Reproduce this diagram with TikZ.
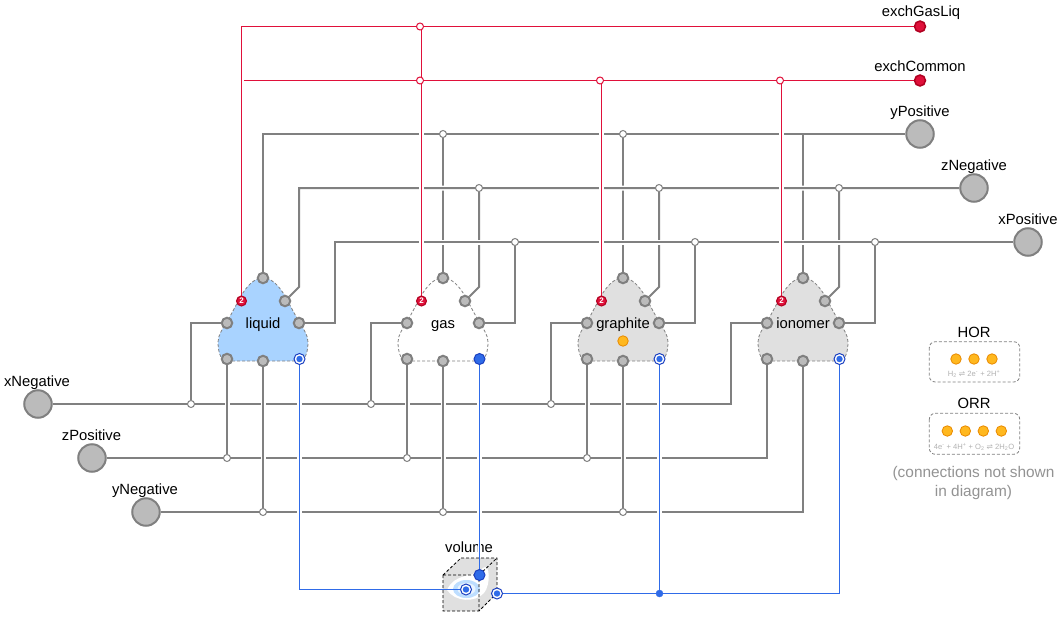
\documentclass[tikz,border=0pt]{standalone}
\usepackage{fontspec}
\setmainfont{Liberation Sans}
\newfontfamily\symfont{DejaVu Sans}
\usetikzlibrary{calc}
\pgfdeclarelayer{blobs}
\pgfdeclarelayer{wires}
\pgfsetlayers{blobs,wires,main}
\definecolor{wiregrey}{HTML}{808080}
\definecolor{portgrey}{HTML}{BBBBBB}
\definecolor{exred}{HTML}{E0103A}
\definecolor{exreddark}{HTML}{B00020}
\definecolor{volblue}{HTML}{2F6BE8}
\definecolor{darkblue}{HTML}{1A3FC0}
\definecolor{liqfill}{HTML}{A9D3FF}
\definecolor{solfill}{HTML}{E0E0E0}
\definecolor{rxfill}{HTML}{FFB81F}
\definecolor{rxline}{HTML}{E98A00}
\tikzset{
  x=1pt,y=-1pt,
  lbl/.style={font=\fontsize{14.8}{16}\selectfont,text=black,inner sep=0pt,anchor=base},
  wire/.style={draw=wiregrey,line width=2pt},
  casing/.style={draw=white,line width=5pt},
  redwire/.style={draw=exred,line width=1pt},
  bluewire/.style={draw=volblue,line width=1pt},
  junc/.style={circle,draw=wiregrey,fill=white,line width=1pt,minimum size=7pt,inner sep=0pt},
  redjunc/.style={circle,draw=exred,fill=white,line width=1pt,minimum size=7pt,inner sep=0pt},
  bluejunc/.style={circle,draw=volblue,fill=volblue,minimum size=7pt,inner sep=0pt},
  port/.style={circle,draw=wiregrey,fill=portgrey,line width=2pt,minimum size=10.5pt,inner sep=0pt},
  bigport/.style={circle,draw=wiregrey,fill=portgrey,line width=2pt,minimum size=27.5pt,inner sep=0pt},
  export/.style={circle,draw=exreddark,fill=exred,line width=1.5pt,minimum size=11pt,inner sep=0pt},
  redport/.style={circle,draw=exreddark,fill=exred,line width=1pt,minimum size=10pt,inner sep=0pt,text=white,font=\fontsize{8}{8}\selectfont\bfseries},
  ringport/.style={circle,draw=darkblue,fill=white,line width=1pt,minimum size=11pt,inner sep=0pt,
    path picture={\fill[volblue] (path picture bounding box.center) circle[radius=3.2pt];}},
  fullblue/.style={circle,draw=darkblue,fill=volblue,line width=1pt,minimum size=11pt,inner sep=0pt},
  rx/.style={circle,draw=rxline,fill=rxfill,line width=.8pt,minimum size=10.5pt,inner sep=0pt},
  blob/.style={draw=wiregrey,line width=.8pt,dash pattern=on 3pt off 2pt},
  rxbox/.style={draw=wiregrey,line width=.8pt,dash pattern=on 3pt off 2pt,rounded corners=6pt},
  rxtext/.style={font=\fontsize{7.6}{9}\selectfont,text=gray!60,inner sep=0pt,anchor=base},
  notetext/.style={font=\fontsize{15.4}{17}\selectfont,text=gray!85,inner sep=0pt,anchor=base},
}
\newcommand{\compblob}[3]{%
  \begin{pgfonlayer}{blobs}
  \begin{scope}[shift={(#1,0)}]
    \path[blob,fill=#2] (-36,361) -- (36,361)
      .. controls (43,361) and (45,350) .. (45,342)
      .. controls (45,335) and (40,328) .. (36,322)
      -- (22,296)
      .. controls (16,286) and (9,278) .. (0,278)
      .. controls (-9,278) and (-16,286) .. (-22,296)
      -- (-36,322)
      .. controls (-40,328) and (-45,335) .. (-45,342)
      .. controls (-45,350) and (-43,361) .. (-36,361) -- cycle;
  \end{scope}%
  \end{pgfonlayer}%
  \node[lbl] (#3lab) at (#1,328) {#3};%
}
\newcommand{\compports}[2]{%
  \node[port] (#2T) at (#1,278) {};
  \node[port] (#2L) at (#1-36,323) {};
  \node[port] (#2R) at (#1+36,323) {};
  \node[port] (#2U) at (#1+22,301) {};
  \node[port] (#2BL) at (#1-36,359) {};
  \node[port] (#2BM) at (#1,361) {};
  \node[redport] (#2E) at (#1-21.5,301) {2};
}
\newcommand{\cwire}[1]{\draw[casing] #1; \draw[wire] #1;}
\begin{document}
\begin{tikzpicture}
\useasboundingbox (0,0) rectangle (1063,618);
\begin{pgfonlayer}{blobs}
\fill[white] (0,0) rectangle (1063,618);
\end{pgfonlayer}

% units
\compblob{263}{liqfill}{liquid}
\compblob{443}{white}{gas}
\compblob{623}{solfill}{graphite}
\compblob{803}{solfill}{ionomer}

% boundary ports
\node[bigport] (yPos) at (920,134) {};
\node[bigport] (zNeg) at (974,188) {};
\node[bigport] (xPos) at (1028,242) {};
\node[bigport] (xNeg) at (38,404) {};
\node[bigport] (zPos) at (92,458) {};
\node[bigport] (yNeg) at (146,512) {};
\node[export] (exGL) at (920,26.500) {};
\node[export] (exC) at (920,80.500) {};
\coordinate (exCend) at (244,80.500);

\compports{263}{liq}
\compports{443}{gas}
\compports{623}{gra}
\compports{803}{ion}
\node[rx] (rxgra) at (623,341) {};

% junctions
\foreach \n/\x/\y in {a1/443/134,a2/623/134,
  b1/479/188,b2/659/188,b3/839/188,
  c1/515/242,c2/695/242,c3/875/242,
  d1/191/404,d2/371/404,d3/551/404,
  e1/227/458,e2/407/458,e3/587/458,
  f1/263/512,f2/443/512,f3/623/512}
  \node[junc] (\n) at (\x,\y) {};
\foreach \n/\x/\y in {r1/420/26.500,r2/420/80.500,r3/600/80.500,r4/780/80.500}
  \node[redjunc] (\n) at (\x,\y) {};
\coordinate (rv1) at (421.500,26.500);
\coordinate (rv3) at (601.500,80.500);
\coordinate (rv4) at (781.500,80.500);

% volume ports and unit flow ports
\node[ringport] (volIn) at (466,589.500) {};
\node[fullblue] (volTop) at (479.500,575) {};
\node[ringport] (volOut) at (497,593.500) {};
\node[ringport] (liqV) at (299.500,359) {};
\node[fullblue] (gasV) at (479.500,359) {};
\node[ringport] (graV) at (659.500,359) {};
\node[ringport] (ionV) at (839.500,359) {};
\node[bluejunc] (vj) at (659.500,593.500) {};

\begin{pgfonlayer}{wires}
% y positive
\draw[wire] (yPos) -- (263,134) -- (liqT);
\draw[wire] (a1) -- (gasT);
\draw[wire] (a2) -- (graT);
\draw[wire] (803,134) -- (ionT);
% z negative
\cwire{(zNeg) -- (299,188) -- (299,287) -- (liqU)}
\cwire{(b1) -- (479,287) -- (gasU)}
\cwire{(b2) -- (659,287) -- (graU)}
\cwire{(b3) -- (839,287) -- (ionU)}
% x positive
\cwire{(xPos) -- (335,242) -- (335,323) -- (liqR)}
\cwire{(c1) -- (515,323) -- (gasR)}
\cwire{(c2) -- (695,323) -- (graR)}
\cwire{(c3) -- (875,323) -- (ionR)}
% x negative
\draw[wire] (xNeg) -- (731,404) -- (731,323) -- (ionL);
\draw[wire] (d1) -- (191,323) -- (liqL);
\draw[wire] (d2) -- (371,323) -- (gasL);
\draw[wire] (d3) -- (551,323) -- (graL);
% z positive
\cwire{(zPos) -- (767,458) -- (ionBL)}
\cwire{(e1) -- (liqBL)}
\cwire{(e2) -- (gasBL)}
\cwire{(e3) -- (graBL)}
% y negative
\cwire{(yNeg) -- (803,512) -- (ionBM)}
\cwire{(f1) -- (liqBM)}
\cwire{(f2) -- (gasBM)}
\cwire{(f3) -- (graBM)}

% exchange wires, with a white gap where they cross the grey ones
\draw[casing] (421.500,100) -- (421.500,270);
\draw[casing] (601.500,100) -- (601.500,270);
\draw[casing] (781.500,100) -- (781.500,270);
\draw[redwire] (exGL) -- (241.500,26.500) -- (liqE);
\draw[redwire] (exC) -- (exCend);
\draw[redwire] (rv1) -- (gasE);
\draw[redwire] (rv3) -- (graE);
\draw[redwire] (rv4) -- (ionE);

% volume cube
\node[lbl] (volab) at (469,552) {volume};
\fill[solfill] (443,575) -- (461,558) -- (497,558) -- (497,593) -- (479,611) -- (443,611) -- cycle;
\fill[white] (447,590) .. controls (455,572) and (475,578) .. (483,568)
  .. controls (490,562) and (491,585) .. (484,593)
  .. controls (475,603) and (455,602) .. (447,590) -- cycle;
\fill[liqfill!75!white] (466.500,589) ellipse[x radius=13.500pt,y radius=9pt];
\fill[liqfill!25!white] (466.500,589) ellipse[x radius=9pt,y radius=6pt];
\draw[black,line width=.8pt,dash pattern=on 3pt off 2pt]
  (443,575) -- (461,558) -- (497,558) -- (497,593) -- (479,611) -- (443,611) -- cycle
  (443,575) -- (479,575) -- (479,611) (479,575) -- (497,558);

% volume flow wires
\draw[casing] (299.500,375) -- (299.500,530);
\draw[casing] (479.500,375) -- (479.500,530);
\draw[casing] (659.500,375) -- (659.500,530);
\draw[white,line width=3pt] (479.500,538) -- (479.500,556);
\draw[bluewire] (liqV) -- (299.500,589.500) -- (volIn);
\draw[bluewire] (gasV) -- (volTop);
\draw[bluewire] (volOut) -- (839.500,593.500) -- (ionV);
\draw[bluewire] (vj) -- (graV);
\end{pgfonlayer}

% labels
\node[lbl] (lGL) at (921,17) {exchGasLiq};
\node[lbl] (lC) at (920,71) {exchCommon};
\node[lbl] (lyP) at (920,116) {yPositive};
\node[lbl] (lzN) at (974,170) {zNegative};
\node[lbl] (lxP) at (1028,224) {xPositive};
\node[lbl] (lxN) at (37,386) {xNegative};
\node[lbl] (lzP) at (91.500,440) {zPositive};
\node[lbl] (lyN) at (145,494) {yNegative};

% reactions
\node[lbl] (hor) at (974,337) {HOR};
\draw[rxbox] (929.300,341.700) rectangle (1019.700,382);
\node[rx] (h1) at (956,359) {};
\node[rx] (h2) at (974,359) {};
\node[rx] (h3) at (992,359) {};
\node[rxtext] (hortxt) at (974,376.500) {H\textsubscript{2} {\symfont ⇌} 2e\textsuperscript{-} + 2H\textsuperscript{+}};
\node[lbl] (orr) at (974,408) {ORR};
\draw[rxbox] (929.300,413.300) rectangle (1019.700,454.300);
\node[rx] (o1) at (947.300,431) {};
\node[rx] (o2) at (965.300,431) {};
\node[rx] (o3) at (983.300,431) {};
\node[rx] (o4) at (1001.300,431) {};
\node[rxtext] (orrtxt) at (974,449) {4e\textsuperscript{-} + 4H\textsuperscript{+} + O\textsubscript{2} {\symfont ⇌} 2H\textsubscript{2}O};
\node[notetext] (note1) at (973.500,477) {(connections not shown};
\node[notetext] (note2) at (973.500,496) {in diagram)};
\end{tikzpicture}
\end{document}
